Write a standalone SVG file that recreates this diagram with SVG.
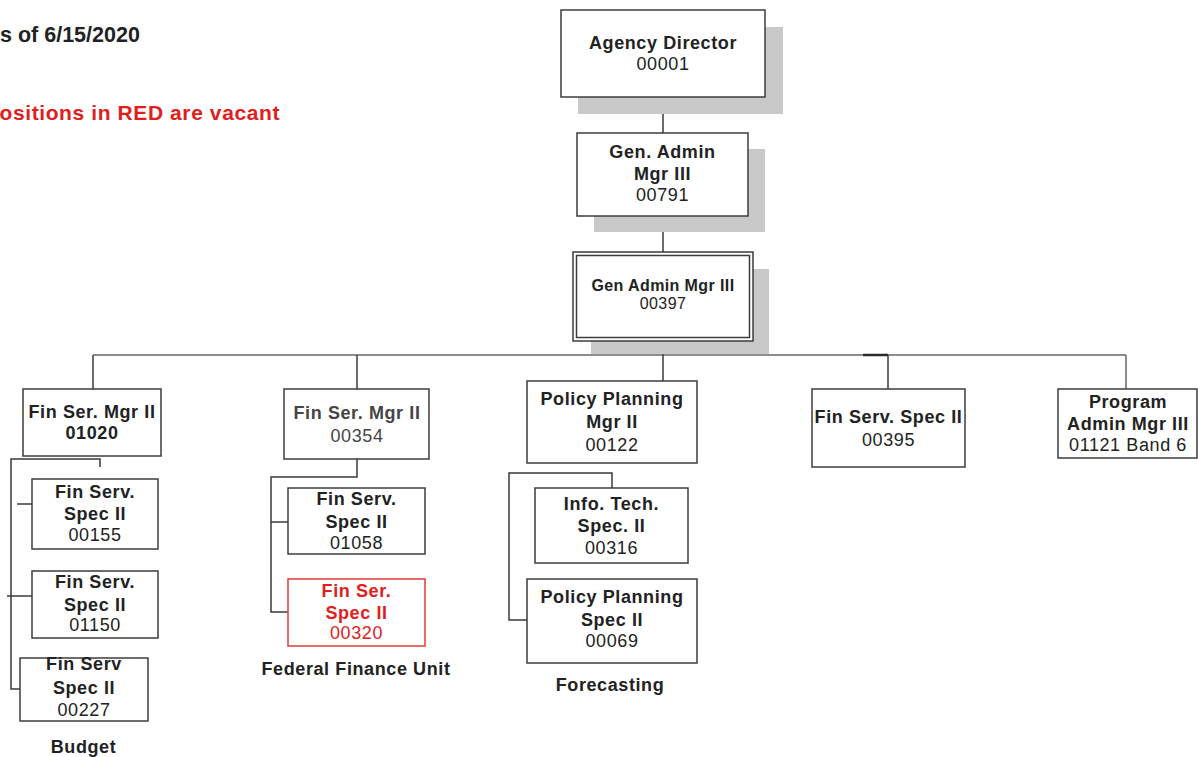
<svg xmlns="http://www.w3.org/2000/svg" width="1198" height="757" viewBox="0 0 1198 757">
  <style>
    .bg { fill: #ffffff; }
    .box { fill: #ffffff; stroke: #3c3c3c; stroke-width: 1.5; }
    .vacant { fill: #ffffff; stroke: #e23a36; stroke-width: 1.5; }
    .shadow { fill: #c9c9c9; }
    .wire { fill: none; stroke: #3a3a3a; stroke-width: 1.5; }
    .t { font-family: "Liberation Sans", Arial, sans-serif; font-size: 18px; letter-spacing: 0.6px; fill: #222; text-anchor: middle; }
    .b { font-weight: bold; }
    .sm { font-size: 16px; letter-spacing: 0.4px; }
    .grey { fill: #454545; }
    .red { fill: #e0201c; }
    .note { font-family: "Liberation Sans", Arial, sans-serif; font-weight: bold; }
  </style>

  <rect class="bg" x="0" y="0" width="1198" height="757"/>

  <!-- header notes -->
  <text class="note" x="0" y="41.5" font-size="21.5" fill="#222">s of 6/15/2020</text>
  <text class="note" x="280" y="120" font-size="21" letter-spacing="0.6" fill="#e0201c" text-anchor="end">ositions in RED are vacant</text>

  <!-- connectors -->
  <g id="connectors">
    <path class="wire" d="M663,97 V133"/>
    <path class="wire" d="M663,216 V252"/>
    <path class="wire" d="M663,341 V355"/>
    <path d="M93,355 H1126" fill="none" stroke="#666" stroke-width="1.5"/>
    <path d="M863,355 H888" fill="none" stroke="#2a2a2a" stroke-width="2.5"/>
    <path class="wire" d="M93,355 V389"/>
    <path class="wire" d="M357,355 V389"/>
    <path class="wire" d="M663,355 V381"/>
    <path class="wire" d="M888,355 V389"/>
    <path d="M1126,355 V389" fill="none" stroke="#666" stroke-width="1.5"/>
    <!-- Budget unit -->
    <path class="wire" d="M100,467 V459 H11 V689 H20"/>
    <path class="wire" d="M17,504 H32"/>
    <path class="wire" d="M7,596 H32"/>
    <!-- Federal Finance Unit -->
    <path class="wire" d="M357,459 V477 H271 V612 H288"/>
    <path class="wire" d="M271,522 H288"/>
    <!-- Forecasting -->
    <path class="wire" d="M612,488 V473 H509 V620 H527"/>
  </g>

  <g id="n00001">
    <rect class="shadow" x="578" y="27" width="205" height="87"/>
    <rect class="box" x="561" y="10" width="204" height="87"/>
    <text class="t b" x="663" y="49">Agency Director</text>
    <text class="t" x="663" y="69.5">00001</text>
  </g>

  <g id="n00791">
    <rect class="shadow" x="594" y="149" width="171" height="83"/>
    <rect class="box" x="577" y="133" width="171" height="83"/>
    <text class="t b" x="662.5" y="158">Gen. Admin</text>
    <text class="t b" x="662.5" y="180">Mgr III</text>
    <text class="t" x="662.5" y="200.5">00791</text>
  </g>

  <g id="n00397">
    <rect class="shadow" x="591" y="269" width="178" height="85"/>
    <rect class="box" x="573" y="252" width="180" height="89"/>
    <rect class="box" x="576.5" y="255.5" width="173" height="82"/>
    <text class="t b sm" x="663" y="291">Gen Admin Mgr III</text>
    <text class="t sm" x="663" y="309">00397</text>
  </g>

  <g id="n01020">
    <rect class="box" x="23" y="389" width="138" height="67"/>
    <text class="t b" x="92" y="417.5">Fin Ser. Mgr II</text>
    <text class="t b" x="92" y="439">01020</text>
  </g>

  <g id="n00155">
    <rect class="box" x="32" y="479" width="126" height="70"/>
    <text class="t b" x="95" y="498">Fin Serv.</text>
    <text class="t b" x="95" y="520">Spec II</text>
    <text class="t" x="95" y="541">00155</text>
  </g>

  <g id="n01150">
    <rect class="box" x="32" y="571" width="126" height="67"/>
    <text class="t b" x="95" y="588">Fin Serv.</text>
    <text class="t b" x="95" y="611">Spec II</text>
    <text class="t" x="95" y="631">01150</text>
  </g>

  <g id="n00227">
    <rect class="box" x="20" y="658" width="128" height="63"/>
    <text class="t b" x="84" y="670">Fin Serv</text>
    <text class="t b" x="84" y="694">Spec II</text>
    <text class="t" x="84" y="716">00227</text>
  </g>

  <g id="budget-label">
    <text class="t b" x="83.5" y="753">Budget</text>
  </g>

  <g id="n00354">
    <rect class="box" x="284" y="389" width="145" height="70"/>
    <text class="t b grey" x="357" y="419">Fin Ser. Mgr II</text>
    <text class="t grey" x="357" y="442">00354</text>
  </g>

  <g id="n01058">
    <rect class="box" x="288" y="488" width="137" height="66"/>
    <text class="t b" x="356.5" y="505">Fin Serv.</text>
    <text class="t b" x="356.5" y="528">Spec II</text>
    <text class="t" x="356.5" y="549">01058</text>
  </g>

  <g id="n00320">
    <rect class="vacant" x="288" y="579" width="137" height="67"/>
    <text class="t b red" x="356.5" y="597">Fin Ser.</text>
    <text class="t b red" x="356.5" y="619">Spec II</text>
    <text class="t red" x="356.5" y="639">00320</text>
  </g>

  <g id="federal-label">
    <text class="t b" x="356" y="675">Federal Finance Unit</text>
  </g>

  <g id="n00122">
    <rect class="box" x="527" y="381" width="170" height="82"/>
    <text class="t b" x="612" y="405">Policy Planning</text>
    <text class="t b" x="612" y="428">Mgr II</text>
    <text class="t" x="612" y="450.5">00122</text>
  </g>

  <g id="n00316">
    <rect class="box" x="535" y="488" width="153" height="75"/>
    <text class="t b" x="611.5" y="510">Info. Tech.</text>
    <text class="t b" x="611.5" y="532">Spec. II</text>
    <text class="t" x="611.5" y="554">00316</text>
  </g>

  <g id="n00069">
    <rect class="box" x="527" y="579" width="170" height="84"/>
    <text class="t b" x="612" y="603">Policy Planning</text>
    <text class="t b" x="612" y="626">Spec II</text>
    <text class="t" x="612" y="647">00069</text>
  </g>

  <g id="forecasting-label">
    <text class="t b" x="610" y="691">Forecasting</text>
  </g>

  <g id="n00395">
    <rect class="box" x="812" y="389" width="153" height="78"/>
    <text class="t b" x="888.5" y="423">Fin Serv. Spec II</text>
    <text class="t" x="888.5" y="446">00395</text>
  </g>

  <g id="n01121">
    <rect class="box" x="1058" y="389" width="139" height="69"/>
    <text class="t b" x="1128" y="408">Program</text>
    <text class="t b" x="1128" y="430">Admin Mgr III</text>
    <text class="t" x="1128" y="451">01121 Band 6</text>
  </g>
</svg>
